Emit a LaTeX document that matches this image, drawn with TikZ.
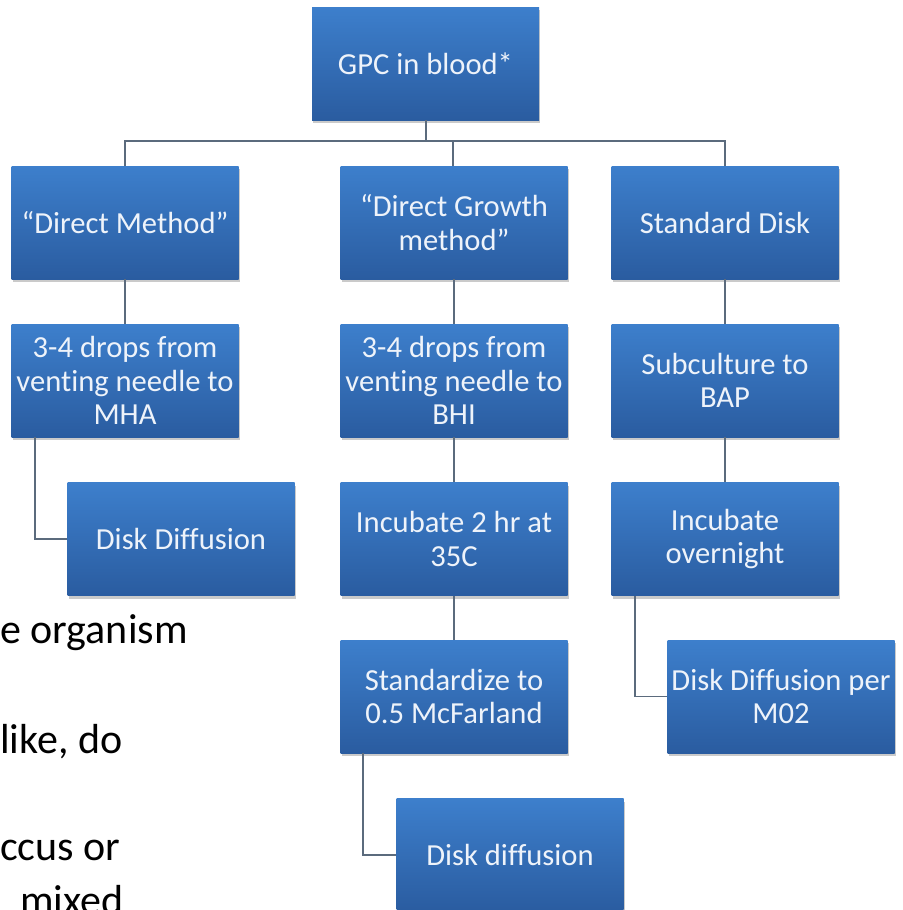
\documentclass[tikz,border=0pt]{standalone}
\usepackage{fontspec}
\setmainfont{Carlito}[Ligatures=NoCommon]
\usetikzlibrary{shadows}
\definecolor{boxtop}{HTML}{3D7FCC}
\definecolor{boxbot}{HTML}{2A5CA0}
\definecolor{boxtext}{HTML}{EEF3FA}
\definecolor{linecol}{HTML}{5B6B7D}
\tikzset{
  box/.style={rectangle, minimum width=227pt, minimum height=113pt, inner sep=0pt,
    top color=boxtop, bottom color=boxbot, text=boxtext, align=center,
    font=\fontsize{30.6}{33.5}\selectfont,
    drop shadow={opacity=0.35, shadow xshift=1pt, shadow yshift=-3pt, fill=black!60}},
  conn/.style={draw=linecol, line width=1.4pt},
  bg/.style={anchor=base west, inner sep=0pt, font=\fontsize{42}{46}\selectfont, text=black}
}
\begin{document}
\begin{tikzpicture}[x=1pt,y=-1pt]
\useasboundingbox (0,0) rectangle (902,910);
\clip (0,0) rectangle (902,910);
% background slide text
\node[bg] (t1) at (0,643) {e organism};
\node[bg] (t2) at (0,753) {like, do};
\node[bg] (t3) at (0,860) {ccus or};
\node[bg] (t4) at (20,914) {mixed};
% boxes
\node[box] (gpc) at (425.5,63.5) {GPC in blood*};
\node[box] (dm) at (125,222.5) {“Direct Method”};
\node[box] (dg) at (454,222.5) {“Direct Growth\\method”};
\node[box] (sd) at (725,222.5) {Standard Disk};
\node[box] (dm2) at (125,380.5) {3-4 drops from\\venting needle to\\MHA};
\node[box] (dg2) at (454,380.5) {3-4 drops from\\venting needle to\\BHI};
\node[box] (sd2) at (725,380.5) {Subculture to\\BAP};
\node[box] (dd1) at (181,539) {Disk Diffusion};
\node[box] (dg3) at (454,539) {Incubate 2 hr at\\35C};
\node[box] (sd3) at (725,539) {Incubate\\overnight};
\node[box] (dg4) at (454,696.5) {Standardize to\\0.5 McFarland};
\node[box] (sd4) at (781,696.5) {Disk Diffusion per\\M02};
\node[box] (dd3) at (510,855) {Disk diffusion};
% connectors
\draw[conn, line width=2pt] (gpc.south) -- ++(0,22);
\draw[conn] (dm.north) -- ++(0,-25) -| (sd.north);
\draw[conn] ([xshift=-1pt]dg.north) -- ++(0,-25);
\draw[conn] (dm.south) -- (dm2.north);
\draw[conn] (dg.south) -- (dg2.north);
\draw[conn] (sd.south) -- (sd2.north);
\draw[conn] (dg2.south) -- (dg3.north);
\draw[conn] (sd2.south) -- (sd3.north);
\draw[conn] (dg3.south) -- (dg4.north);
\draw[conn] ([xshift=-90pt]dm2.south) |- (dd1.west);
\draw[conn] ([xshift=-90pt]sd3.south) |- (sd4.west);
\draw[conn] ([xshift=-91pt]dg4.south) |- (dd3.west);
\end{tikzpicture}
\end{document}
